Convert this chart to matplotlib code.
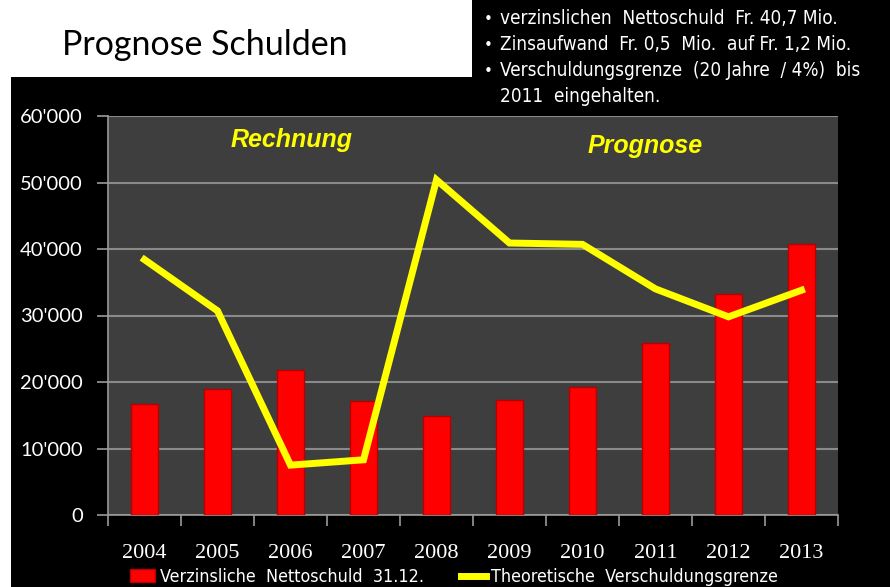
import matplotlib
matplotlib.use("Agg")
import matplotlib.pyplot as plt
from matplotlib import font_manager
from matplotlib.patches import Rectangle, Patch
from matplotlib.lines import Line2D
from matplotlib.ticker import FuncFormatter

years = ["2004", "2005", "2006", "2007", "2008", "2009", "2010", "2011", "2012", "2013"]
nettoschuld = [16700, 19000, 21800, 17200, 14900, 17300, 19200, 25800, 33200, 40700]
grenze = [38400, 30700, 7500, 8300, 50400, 40900, 40700, 34000, 29800, 33800]
yticks = [0, 10000, 20000, 30000, 40000, 50000, 60000]
bullets = ["verzinslichen  Nettoschuld  Fr. 40,7 Mio.",
           "Zinsaufwand  Fr. 0,5  Mio.  auf Fr. 1,2 Mio.",
           "Verschuldungsgrenze  (20 Jahre  / 4%)  bis",
           "2011  eingehalten."]

names = set(f.name for f in font_manager.fontManager.ttflist)
narrow = "Liberation Sans Narrow" if "Liberation Sans Narrow" in names else "DejaVu Sans"
narrow_stretch = "normal" if narrow == "Liberation Sans Narrow" else "condensed"

W, H = 890, 587
fig = plt.figure(figsize=(W / 100, H / 100), dpi=100, facecolor="white")

# backgrounds
fig.patches.append(Rectangle((11 / W, 0), 1 - 11 / W, 1 - 77 / H, transform=fig.transFigure,
                             facecolor="black", edgecolor="none", zorder=-5))
fig.patches.append(Rectangle((472 / W, 1 - 110 / H), 1 - 472 / W, 110 / H, transform=fig.transFigure,
                             facecolor="black", edgecolor="none", zorder=-5))

fig.text(62 / W, 1 - 45 / H, "Prognose Schulden", family="Lato", fontsize=24.5,
         color="black", va="center", ha="left")

for i, b in enumerate(bullets):
    y = 1 - (19 + i * 26) / H
    if i < 3:
        fig.text(484 / W, y, "\u2022", color="white", fontsize=11, va="center", ha="left")
    fig.text(500 / W, y, b, color="white", fontsize=13.6, family=narrow,
             fontstretch=narrow_stretch, va="center", ha="left")

ax = fig.add_axes([108 / W, 1 - 515 / H, 730 / W, 399 / H])
ax.set_facecolor("#3e3e3e")
x = list(range(len(years)))
ax.bar(x, nettoschuld, width=0.38, color="#ff0000", edgecolor="#b80000", linewidth=1, zorder=3)
ax.plot(x, grenze, color="#ffff00", linewidth=5, solid_joinstyle="miter", zorder=4)

ax.set_xlim(-0.5, len(years) - 0.5)
ax.set_ylim(0, 60000)
ax.set_yticks(yticks)
ax.yaxis.set_major_formatter(FuncFormatter(lambda v, p: "0" if v == 0 else "{:,.0f}".format(v).replace(",", "'")))
ax.grid(axis="y", color="#8a8a8a", linewidth=1.5, zorder=1)
ax.set_axisbelow(True)
ax.set_xticks(x)
ax.set_xticklabels(years, family="Liberation Serif", fontsize=16, color="white")
ax.set_xticks([i - 0.5 for i in range(len(years) + 1)], minor=True)
ax.tick_params(axis="x", which="major", length=0, pad=21)
ax.tick_params(axis="x", which="minor", length=8, color="#9a9a9a", width=1.2, direction="out")
ax.tick_params(axis="y", length=8, color="#9a9a9a", width=1.2, labelcolor="white", labelsize=14.5, pad=10)
for lab in ax.get_yticklabels():
    lab.set_family("Lato")
for s in ["top", "right"]:
    ax.spines[s].set_visible(False)
for s in ["left", "bottom"]:
    ax.spines[s].set_color("#9a9a9a")
    ax.spines[s].set_linewidth(1.2)

ax.text(2.02, 56400, "Rechnung", color="#ffff00", fontsize=18, fontweight="bold", style="italic",
        family="Liberation Sans", ha="center", va="center", zorder=5)
ax.text(6.86, 55500, "Prognose", color="#ffff00", fontsize=18, fontweight="bold", style="italic",
        family="Liberation Sans", ha="center", va="center", zorder=5)

handles = [Patch(facecolor="#ff0000", edgecolor="#b80000"),
           Line2D([0], [0], color="#ffff00", linewidth=5)]
labels = ["Verzinsliche  Nettoschuld  31.12.", "Theoretische  Verschuldungsgrenze"]
leg = fig.legend(handles, labels, loc="center left", bbox_to_anchor=(114 / W, 1 - 577 / H), ncol=2,
                 frameon=False, handlelength=1.4, handletextpad=0.25, columnspacing=2.1,
                 prop={"family": narrow, "size": 12.9, "stretch": narrow_stretch})
for t in leg.get_texts():
    t.set_color("white")

fig.savefig("out.png", dpi=100, facecolor="white")
